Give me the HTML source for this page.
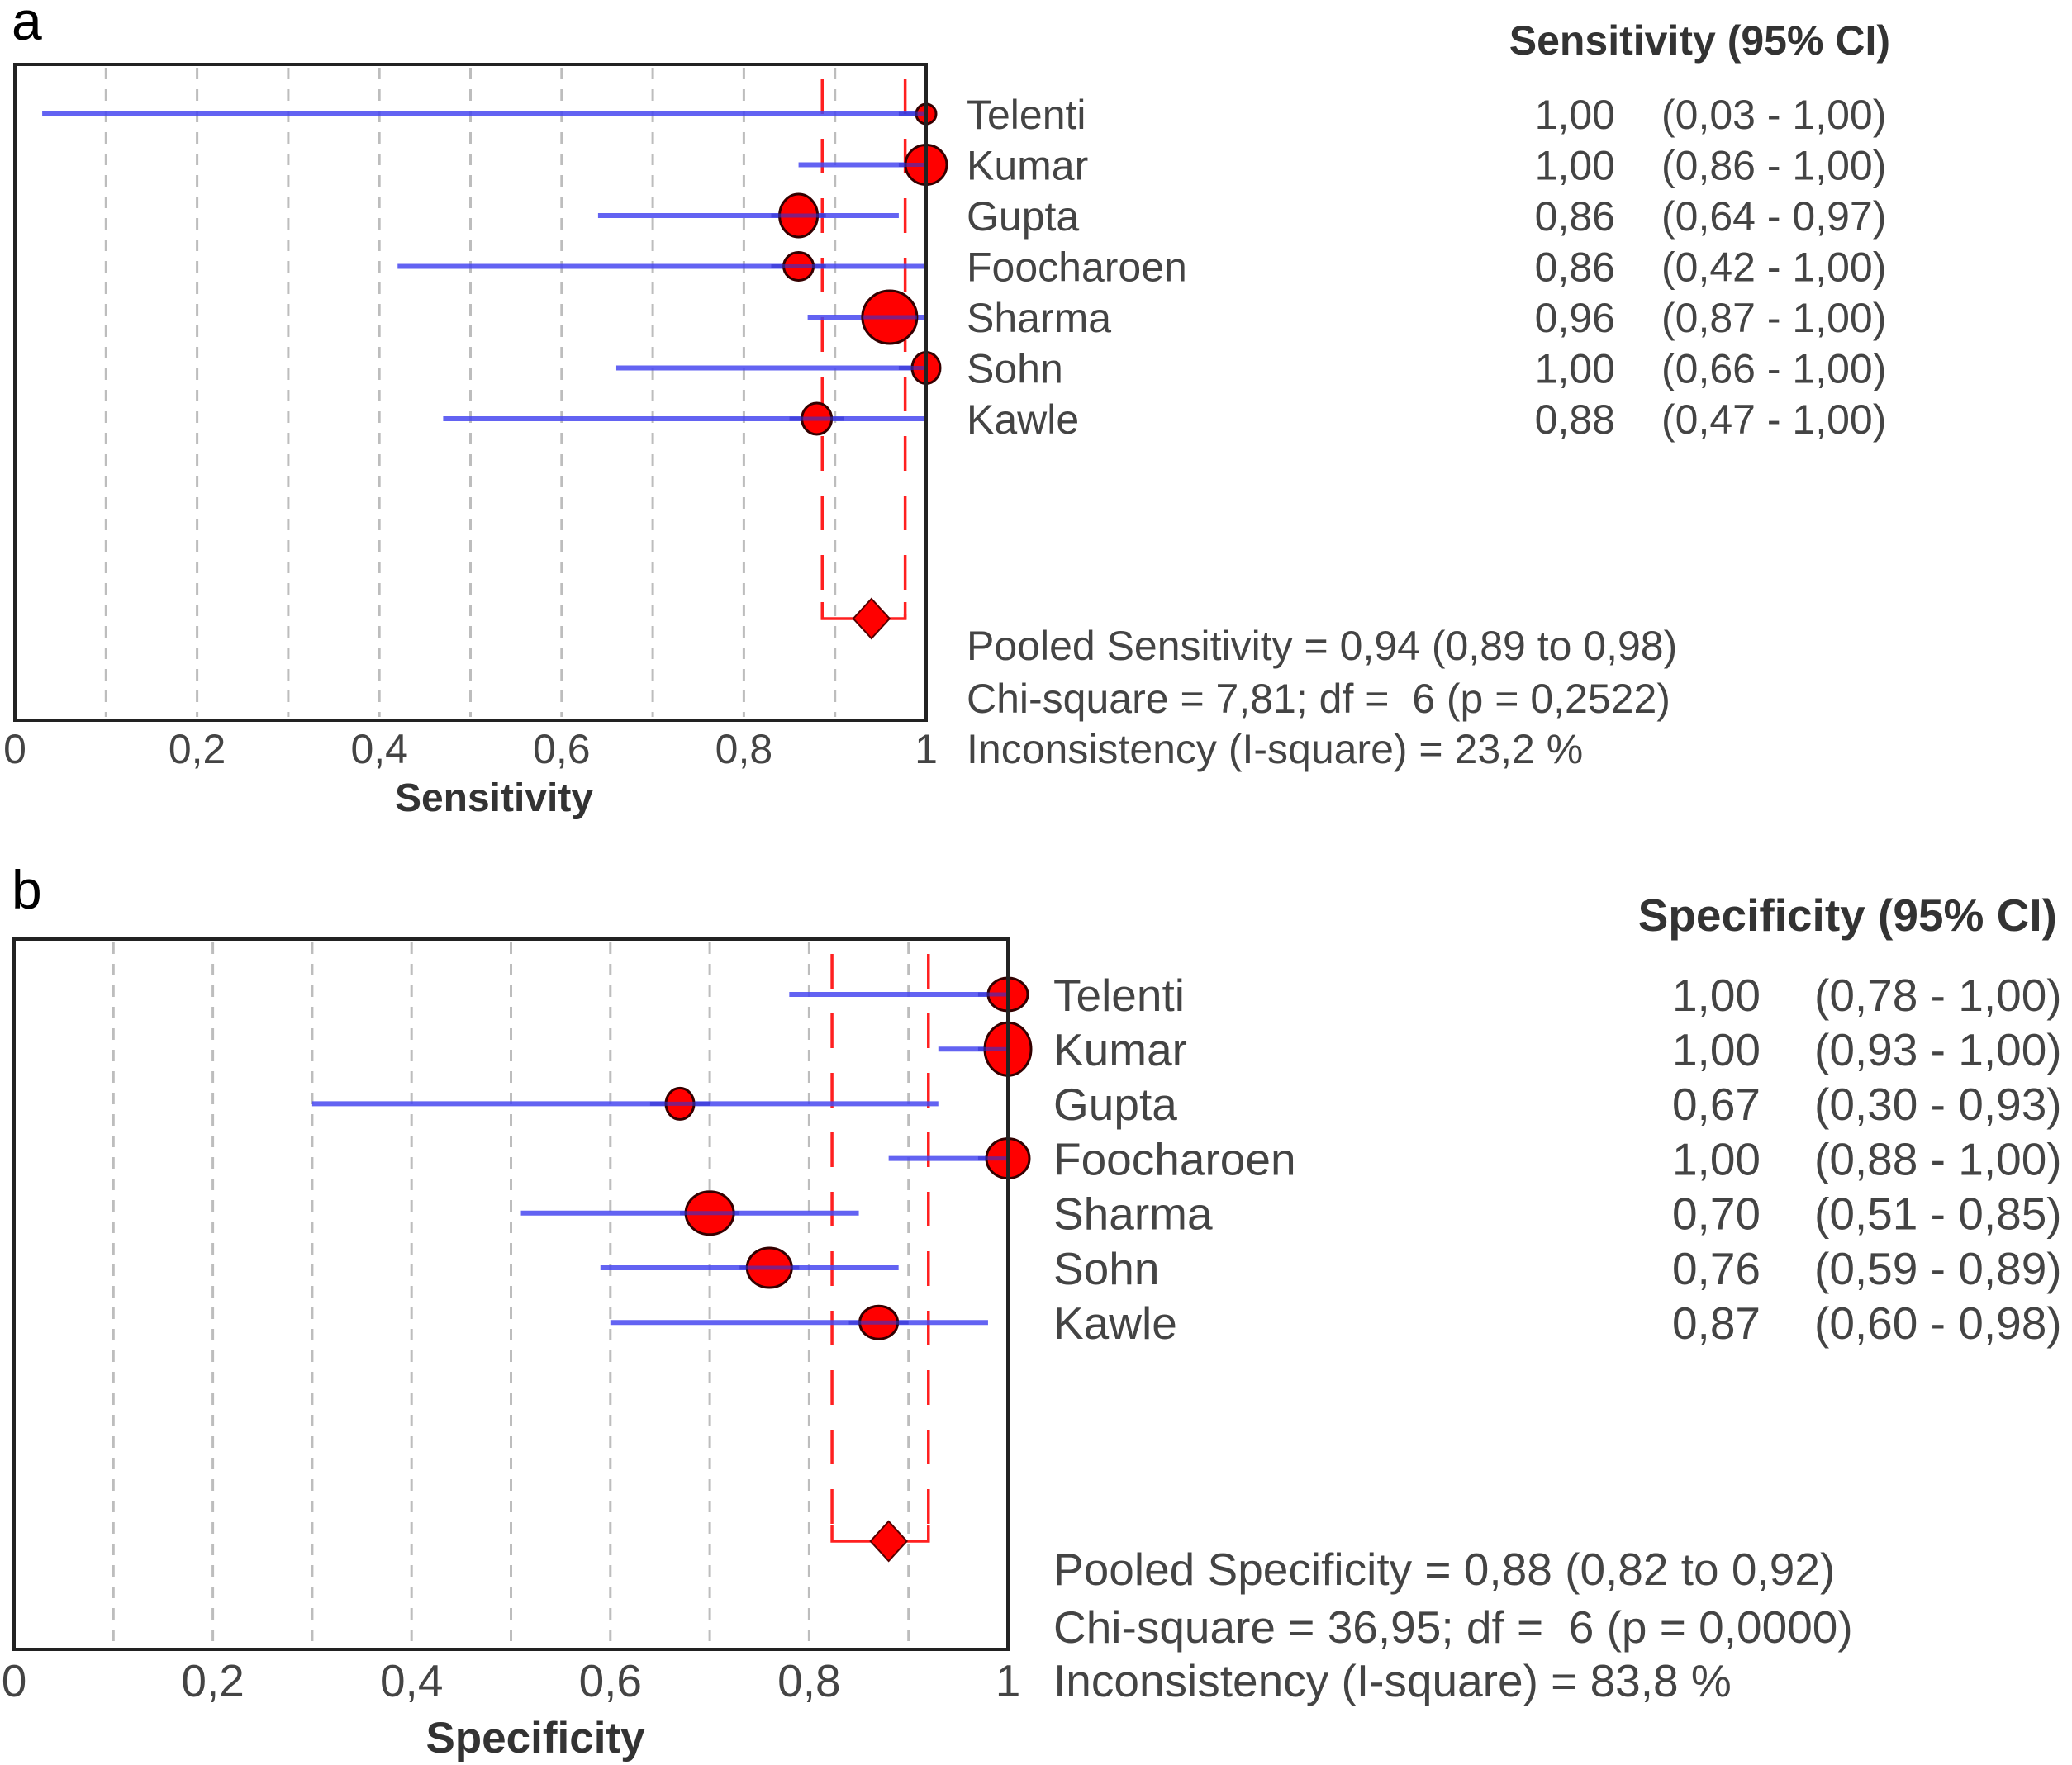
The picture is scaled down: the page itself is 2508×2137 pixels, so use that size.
<!DOCTYPE html>
<html><head><meta charset="utf-8">
<style>
html,body{margin:0;padding:0;background:#fff;}
svg{display:block;}
text{font-family:"Liberation Sans",Arial,sans-serif;}
</style></head>
<body>
<svg id="fig" width="2508" height="2137" viewBox="0 0 2508 2137" xmlns="http://www.w3.org/2000/svg"></svg>
<script>
const studies = ["Telenti","Kumar","Gupta","Foocharoen","Sharma","Sohn","Kawle"];
// Panel a: sensitivity
const sensEst = [1.00,1.00,0.86,0.86,0.96,1.00,0.88];
const sensLo  = [0.03,0.86,0.64,0.42,0.87,0.66,0.47];
const sensHi  = [1.00,1.00,0.97,1.00,1.00,1.00,1.00];
const sensLabels = ["1,00","1,00","0,86","0,86","0,96","1,00","0,88"];
const sensCI = ["(0,03 - 1,00)","(0,86 - 1,00)","(0,64 - 0,97)","(0,42 - 1,00)","(0,87 - 1,00)","(0,66 - 1,00)","(0,47 - 1,00)"];
const sensPooled = [0.94,0.886,0.977];
const sensStats = ["Pooled Sensitivity = 0,94 (0,89 to 0,98)","Chi-square = 7,81; df = \u00a06 (p = 0,2522)","Inconsistency (I-square) = 23,2 %"];
// Panel b: specificity
const specEst = [1.00,1.00,0.67,1.00,0.70,0.76,0.87];
const specLo  = [0.78,0.93,0.30,0.88,0.51,0.59,0.60];
const specHi  = [1.00,1.00,0.93,1.00,0.85,0.89,0.98];
const specLabels = ["1,00","1,00","0,67","1,00","0,70","0,76","0,87"];
const specCI = ["(0,78 - 1,00)","(0,93 - 1,00)","(0,30 - 0,93)","(0,88 - 1,00)","(0,51 - 0,85)","(0,59 - 0,89)","(0,60 - 0,98)"];
const specPooled = [0.88,0.823,0.92];
const specStats = ["Pooled Specificity = 0,88 (0,82 to 0,92)","Chi-square = 36,95; df = \u00a06 (p = 0,0000)","Inconsistency (I-square) = 83,8 %"];
const tickVals = [0,0.2,0.4,0.6,0.8,1];
const tickLabels = ["0","0,2","0,4","0,6","0,8","1"];
const gridVals = [0.1,0.2,0.3,0.4,0.5,0.6,0.7,0.8,0.9];
const sensSize = [[12,12],[25,24],[23,26],[18,17],[33,32],[17,19],[18,19]];
const specSize = [[24,20],[28,32],[17,19],[26,24],[29,26],[27,24],[23,20]];

const NS="http://www.w3.org/2000/svg";
const svg=document.getElementById('fig');
function el(tag,attrs,parent){const e=document.createElementNS(NS,tag);for(const k in attrs)e.setAttribute(k,attrs[k]);(parent||svg).appendChild(e);return e;}

function panel(cfg){
  const g=el('g',{});
  
  
  const X=v=>cfg.x0+(cfg.x1-cfg.x0)*v;
  const Y=i=>cfg.rowY0+cfg.rowStep*i;
  const lbl=el('text',{x:cfg.letterX,y:cfg.letterY,'font-size':66,fill:'#000'},g);
  lbl.textContent=cfg.letter;
  
  
  gridVals.forEach(v=>{
    const l=el('line',{x1:X(v),x2:X(v),y1:cfg.y0+4,y2:cfg.y1-4,stroke:'#bdbdbd','stroke-width':3,'stroke-dasharray':'14 12'},g);
    
    
  });
  const pl=X(cfg.pooled[1]), ph=X(cfg.pooled[2]), yd=cfg.diamondY;
  [pl,ph].forEach(x=>{
    const l=el('line',{x1:x,x2:x,y1:cfg.y0+18,y2:yd,stroke:'#ff2020','stroke-width':3.5,'stroke-dasharray':'42 30'},g);
    
    
  });
  const br=el('polyline',{points:`${pl},${yd-20} ${pl},${yd} ${ph},${yd} ${ph},${yd-20}`,fill:'none',stroke:'#ff2020','stroke-width':3.5},g);
  
  
  studies.forEach((s,i)=>{
    const l=el('line',{x1:X(cfg.lo[i]),x2:X(cfg.hi[i]),y1:Y(i),y2:Y(i),stroke:'#4848f0','stroke-width':6,'stroke-opacity':0.85},g);
    
    
  });
  studies.forEach((s,i)=>{
    const m=el('ellipse',{cx:X(cfg.est[i]),cy:Y(i),rx:cfg.size[i][0],ry:cfg.size[i][1],fill:'#ff0000',stroke:'#300','stroke-width':3},g);
    
    
    const l=el('line',{x1:X(Math.max(cfg.lo[i],cfg.est[i]-0.03)),x2:X(Math.min(cfg.hi[i],cfg.est[i]+0.03)),y1:Y(i),y2:Y(i),stroke:'#3030d0','stroke-width':5,'stroke-opacity':0.6},g);
    
    
  });
  const dx=X(cfg.pooled[0]);
  const d=el('polygon',{points:`${dx-22},${yd} ${dx},${yd-24} ${dx+22},${yd} ${dx},${yd+24}`,fill:'#ff0000',stroke:'#500','stroke-width':2},g);
  
  
  const f=el('rect',{x:cfg.x0,y:cfg.y0,width:cfg.x1-cfg.x0,height:cfg.y1-cfg.y0,fill:'none',stroke:'#222','stroke-width':4},g);
  
  
  tickVals.forEach((v,i)=>{
    const t=el('text',{x:X(v),y:cfg.tickY,'font-size':cfg.fs,fill:'#444','text-anchor':'middle'},g);
    t.textContent=tickLabels[i];
    
    
  });
  const at=el('text',{x:cfg.titleX,y:cfg.titleY,'font-size':cfg.fs-2,'font-weight':'bold',fill:'#333','text-anchor':'middle'},g);
  at.textContent=cfg.title;
  
  
  const hd=el('text',{x:cfg.headX,y:cfg.headY,'font-size':cfg.fs,'font-weight':'bold',fill:'#333','text-anchor':'end'},g);
  hd.textContent=cfg.title+" (95% CI)";
  
  
  studies.forEach((s,i)=>{
    const n=el('text',{x:cfg.nameX,y:Y(i)+cfg.fs*0.36,'font-size':cfg.fs,fill:'#444'},g);
    n.textContent=s;
    
    
    const v=el('text',{x:cfg.valX,y:Y(i)+cfg.fs*0.36,'font-size':cfg.fs,fill:'#444','text-anchor':'end'},g);
    v.textContent=cfg.labels[i];
    
    
    const c=el('text',{x:cfg.ciX,y:Y(i)+cfg.fs*0.36,'font-size':cfg.fs,fill:'#444'},g);
    c.textContent=cfg.ci[i];
    
    
  });
  cfg.stats.forEach((s,i)=>{
    const t=el('text',{x:cfg.nameX,y:cfg.statY[i]+cfg.fs*0.36,'font-size':cfg.fs,fill:'#444'},g);
    t.textContent=s;
    
    
  });
}

panel({name:'panel-a-sensitivity',letter:'a',letterX:14,letterY:48,x0:18,x1:1121,y0:78,y1:872,rowY0:138,rowStep:61.5,
  est:sensEst,lo:sensLo,hi:sensHi,size:sensSize,pooled:sensPooled,diamondY:749,tickY:924,fs:50,
  title:'Sensitivity',titleX:598,titleY:982,headX:2288,headY:66,nameX:1170,valX:1955,ciX:2011,
  labels:sensLabels,ci:sensCI,stats:sensStats,statY:[781,845,906]});
panel({name:'panel-b-specificity',letter:'b',letterX:14,letterY:1100,x0:17,x1:1220,y0:1137,y1:1997,rowY0:1204,rowStep:66.2,
  est:specEst,lo:specLo,hi:specHi,size:specSize,pooled:specPooled,diamondY:1866,tickY:2054,fs:55,
  title:'Specificity',titleX:648,titleY:2122,headX:2490,headY:1127,nameX:1275,valX:2131,ciX:2196,
  labels:specLabels,ci:specCI,stats:specStats,statY:[1899,1969,2034]});
</script>
</body></html>
